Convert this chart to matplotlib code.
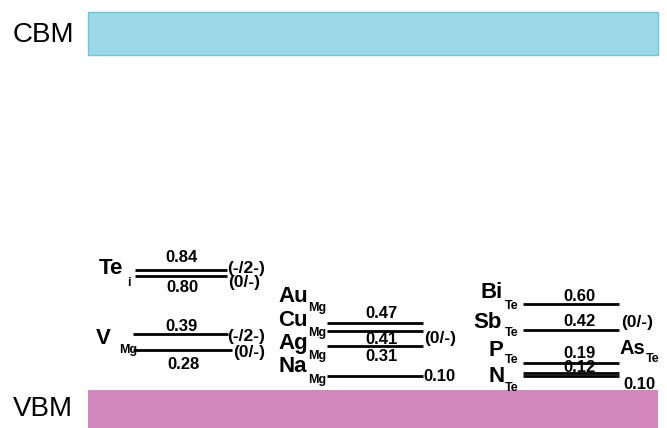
import matplotlib
matplotlib.use("Agg")
import matplotlib.pyplot as plt
from matplotlib.patches import Rectangle

# Energy levels (eV above the VBM)
band_gap = 2.34
te_i_levels = [0.84, 0.80]
v_mg_levels = [0.39, 0.28]
mg_site_names = ["Au", "Cu", "Ag", "Na"]
mg_site_levels = [0.47, 0.41, 0.31, 0.10]
te_site_names = ["Bi", "Sb", "P", "N"]
te_site_levels = [0.60, 0.42, 0.19, 0.12, 0.10]
charge_labels = ["(-/2-)", "(0/-)"]

W, H = 667, 428
PPE = 143.0          # pixels per eV
VBM_PX = 390.0       # pixel row of the VBM edge


def row(py):
    """Convert a pixel row (from the top) into energy units."""
    return (VBM_PX - py) / PPE


BOLD = dict(family=["Liberation Sans", "DejaVu Sans"], fontweight="bold", color="black")
NUM = 12
CHG = 12.5
SPC = 16
SUB = 9

fig = plt.figure(figsize=(W / 100, H / 100), dpi=100)
ax = fig.add_axes([0, 0, 1, 1])
ax.set_xlim(0, W)
ax.set_ylim(row(H), row(0))
ax.axis("off")

# Band edges
ax.add_patch(Rectangle((88, band_gap), 570, row(12) - band_gap,
                       facecolor="#9dd8e6", edgecolor="#6cc6d8", lw=1.0))
ax.add_patch(Rectangle((88, row(H) - 0.05), 570, 0.05 - row(H),
                       facecolor="#d387bd", edgecolor="none"))
ax.text(13, row(35), "CBM", family=["Liberation Sans", "DejaVu Sans"], fontsize=20,
        ha="left", va="center")
ax.text(13, row(409), "VBM", family=["Liberation Sans", "DejaVu Sans"], fontsize=20,
        ha="left", va="center")

LW = 2.0


def level(x0, x1, e):
    ax.plot([x0, x1], [e, e], color="black", lw=LW, solid_capstyle="butt")


def value(x, e, dy_px, ha="center"):
    ax.annotate(f"{e:.2f}", xy=(x, e), xytext=(0, dy_px * 0.72),
                textcoords="offset points", ha=ha, va="center",
                fontsize=NUM, **BOLD)


def charge(x, py, text):
    ax.text(x, row(py), text, ha="left", va="center", fontsize=CHG, **BOLD)


def species(x, py, name, sub, sub_x, sub_py, size=SPC):
    ax.text(x, row(py), name, ha="left", va="center", fontsize=size, **BOLD)
    ax.text(sub_x, row(sub_py), sub, ha="left", va="center", fontsize=SUB, **BOLD)


# ---- Te interstitial and Mg vacancy ----
level(135, 227, te_i_levels[0])
level(135, 227, te_i_levels[1])
value(182, te_i_levels[0], 12)
value(182, te_i_levels[1], -12)
charge(227, 268, charge_labels[0])
charge(228, 283, charge_labels[1])
species(99, 268, "Te", "i", 127, 283)

level(133, 228, v_mg_levels[0])
level(133, 232, v_mg_levels[1])
value(182, v_mg_levels[0], 7.5)
value(184, v_mg_levels[1], -15)
charge(227, 336, charge_labels[0])
charge(233, 353, charge_labels[1])
species(96, 338, "V", "Mg", 119, 350)

# ---- Mg-site acceptors ----
mg_label_rows = [(296, 308), (320, 333), (343, 356), (366, 380)]
for name, (py, spy) in zip(mg_site_names, mg_label_rows):
    species(278, py, name, "Mg", 308, spy)
for e in mg_site_levels:
    level(327, 423, e)
value(382, mg_site_levels[0], 9)
value(382, mg_site_levels[1], -8)
value(382, mg_site_levels[2], -11)
value(423, mg_site_levels[3], -1, ha="left")
charge(424, 339, charge_labels[1])

# ---- Te-site acceptors ----
te_label_rows = [(481, 292, 306), (473, 322, 333), (489, 350, 360), (489, 377, 388)]
for name, (x, py, spy) in zip(te_site_names, te_label_rows):
    species(x, py, name, "Te", 505, spy)
species(620, 348, "As", "Te", 646, 359, size=14.5)
for e in te_site_levels:
    level(523, 619, e)
value(579, te_site_levels[0], 8)
value(579, te_site_levels[1], 8)
value(579, te_site_levels[2], 9.5)
value(579, te_site_levels[3], 5)
value(623, te_site_levels[4], -9, ha="left")
charge(621, 323, charge_labels[1])

fig.savefig("out.png", dpi=100)
